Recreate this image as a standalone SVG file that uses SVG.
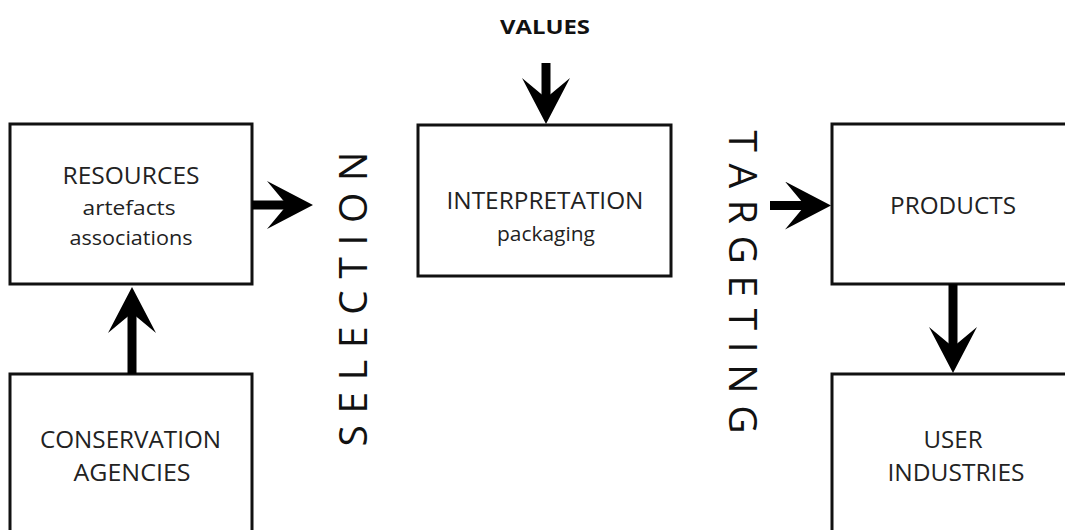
<svg xmlns="http://www.w3.org/2000/svg" width="1065" height="530" viewBox="0 0 1065 530">
<style>
.box{fill:#fff;stroke:#111;stroke-width:3}
.lbl{font-family:"Open Sans","Liberation Sans",sans-serif;font-size:23px;fill:#222;text-anchor:middle}
.sub{font-family:"Open Sans","Liberation Sans",sans-serif;font-size:20.5px;fill:#222;text-anchor:middle}
.bold{font-family:"Open Sans","Liberation Sans",sans-serif;font-size:19px;font-weight:bold;fill:#111;text-anchor:middle}
.vert{font-family:"Open Sans","Liberation Sans",sans-serif;font-size:39px;fill:#111;text-anchor:middle}
.conn{stroke:#000;stroke-width:9;fill:none;marker-end:url(#ah)}
</style>
<defs>
<marker id="ah" viewBox="-46 -24 46 48" refX="-26" refY="0" markerWidth="46" markerHeight="48" markerUnits="userSpaceOnUse" orient="auto">
<path d="M0,0 L-46,-24 L-26,0 L-46,24 Z" fill="#000"/>
</marker>
</defs>
<rect width="1065" height="530" fill="#fff"/>
<g id="resources">
<rect class="box" x="10" y="124" width="242" height="160"/>
<text class="lbl" x="131" y="183.5" textLength="137" lengthAdjust="spacingAndGlyphs">RESOURCES</text>
<text class="sub" x="129" y="215" textLength="93" lengthAdjust="spacingAndGlyphs">artefacts</text>
<text class="sub" x="131" y="244.5" textLength="123" lengthAdjust="spacingAndGlyphs">associations</text>
</g>
<g id="conservation">
<rect class="box" x="10" y="374" width="242" height="170"/>
<text class="lbl" x="130.5" y="447.5" textLength="181" lengthAdjust="spacingAndGlyphs">CONSERVATION</text>
<text class="lbl" x="132" y="481" textLength="117" lengthAdjust="spacingAndGlyphs">AGENCIES</text>
</g>
<g id="values">
<text class="bold" x="545" y="33.5" textLength="90" lengthAdjust="spacingAndGlyphs">VALUES</text>
</g>
<g id="interpretation">
<rect class="box" x="418" y="125" width="253" height="151"/>
<text class="lbl" x="545" y="208.5" textLength="197" lengthAdjust="spacingAndGlyphs">INTERPRETATION</text>
<text class="sub" x="546" y="241" textLength="98" lengthAdjust="spacingAndGlyphs">packaging</text>
</g>
<g id="products">
<rect class="box" x="832" y="124" width="250" height="160"/>
<text class="lbl" x="953" y="214" textLength="126" lengthAdjust="spacingAndGlyphs">PRODUCTS</text>
</g>
<g id="user-industries">
<rect class="box" x="832" y="374" width="250" height="170"/>
<text class="lbl" x="953" y="447.5" textLength="59" lengthAdjust="spacingAndGlyphs">USER</text>
<text class="lbl" x="956" y="481" textLength="137" lengthAdjust="spacingAndGlyphs">INDUSTRIES</text>
</g>
<g id="selection">
<text class="vert" transform="translate(366.5,299) rotate(-90)" x="0" y="0" textLength="295" lengthAdjust="spacing">SELECTION</text>
</g>
<g id="targeting">
<text class="vert" transform="translate(728.5,282) rotate(90)" x="0" y="0" textLength="303" lengthAdjust="spacing">TARGETING</text>
</g>
<g id="connectors">
<line class="conn" x1="132" y1="374" x2="132" y2="313"/>
<line class="conn" x1="252" y1="205" x2="287" y2="205"/>
<line class="conn" x1="546" y1="63" x2="546" y2="98"/>
<line class="conn" x1="770" y1="205.5" x2="805" y2="205.5"/>
<line class="conn" x1="953" y1="284" x2="953" y2="347"/>
</g>
</svg>
